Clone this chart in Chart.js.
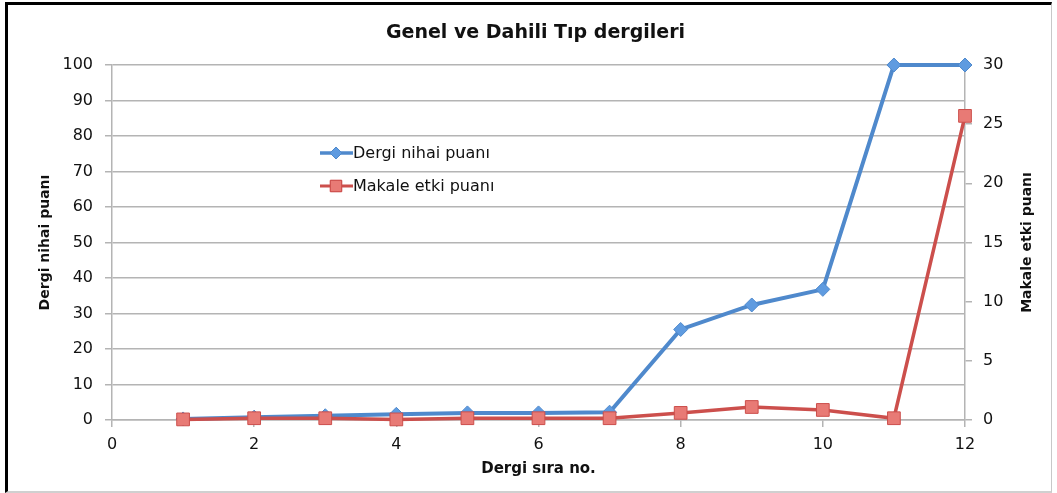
<!DOCTYPE html>
<html>
<head>
<meta charset="utf-8">
<script src="https://cdn.jsdelivr.net/npm/chart.js@4/dist/chart.umd.min.js"></script>
<style>
  html, body { margin: 0; padding: 0; background: #fff; }
  #wrap { position: relative; width: 1057px; height: 493px; }
  #chart { position: absolute; left: 0; top: 0; }
  #frame {
    position: absolute; left: 5px; top: 2px; width: 1043px; height: 486px;
    border-top: 3px solid #000; border-left: 3px solid #000;
    border-right: 1px solid #c8c8c8; border-bottom: 2px solid #d0d0d0;
    pointer-events: none;
  }
</style>
</head>
<body>
<div id="wrap">
  <canvas id="chart" width="1057" height="493"></canvas>
  <div id="frame"></div>
</div>
<script>
// ===== Dados
const siraNo = [1, 2, 3, 4, 5, 6, 7, 8, 9, 10, 11, 12];
const dergiNihai = [0.3, 0.8, 1.2, 1.6, 2.0, 2.0, 2.2, 25.5, 32.4, 36.8, 100, 100];
const makaleEtki = [0.05, 0.15, 0.15, 0.05, 0.15, 0.15, 0.15, 0.6, 1.1, 0.85, 0.15, 25.7];

const xTicks = [0, 2, 4, 6, 8, 10, 12];
const leftTicks = [0, 10, 20, 30, 40, 50, 60, 70, 80, 90, 100];
const rightTicks = [0, 5, 10, 15, 20, 25, 30];

const TITLE = 'Genel ve Dahili Tıp dergileri';
const X_TITLE = 'Dergi sıra no.';
const Y_TITLE = 'Dergi nihai puanı';
const Y2_TITLE = 'Makale etki puanı';

const BLUE = '#4f89cc';
const BLUE_FILL = '#5f9be0';
const RED = '#cc4f4c';
const RED_FILL = '#e87a75';
const GRID = '#b4b4b4';
const INK = '#111';
const FONT = '"DejaVu Sans", sans-serif';

// ===== Textos extras + legenda
const extras = {
  id: 'extras',
  afterDraw(chart) {
    const { ctx, chartArea: a } = chart;
    ctx.save();
    ctx.fillStyle = INK;
    ctx.textAlign = 'center';
    ctx.textBaseline = 'middle';
    ctx.font = 'bold 19px ' + FONT;
    ctx.fillText(TITLE, (a.left + a.right) / 2 - 3, 33);
    ctx.font = 'bold 15px ' + FONT;
    ctx.fillText(X_TITLE, (a.left + a.right) / 2, 469);

    ctx.font = 'bold 14px ' + FONT;
    ctx.save();
    ctx.translate(45, (a.top + a.bottom) / 2);
    ctx.rotate(-Math.PI / 2);
    ctx.fillText(Y_TITLE, 0, 0);
    ctx.restore();

    ctx.save();
    ctx.translate(1027, (a.top + a.bottom) / 2);
    ctx.rotate(-Math.PI / 2);
    ctx.fillText(Y2_TITLE, 0, 0);
    ctx.restore();

    // legenda
    const items = [
      { label: 'Dergi nihai puanı', color: BLUE, fill: BLUE_FILL, style: 'rectRot', r: 6, y: 153, w: 3.5 },
      { label: 'Makale etki puanı', color: RED, fill: RED_FILL, style: 'rect', r: 8, y: 186, w: 3 }
    ];
    items.forEach(it => {
      ctx.strokeStyle = it.color;
      ctx.lineWidth = it.w;
      ctx.beginPath();
      ctx.moveTo(320, it.y);
      ctx.lineTo(353, it.y);
      ctx.stroke();
      ctx.fillStyle = it.fill;
      ctx.lineWidth = 1;
      Chart.helpers.drawPoint(ctx, { pointStyle: it.style, radius: it.r, borderWidth: 1 }, 336, it.y);
      ctx.fill();
      ctx.stroke();
      ctx.fillStyle = INK;
      ctx.textAlign = 'left';
      ctx.font = '16px ' + FONT;
      ctx.fillText(it.label, 353, it.y + 1);
    });
    ctx.restore();
  }
};

new Chart(document.getElementById('chart'), {
  type: 'line',
  data: {
    labels: siraNo,
    datasets: [
      {
        label: 'Dergi nihai puanı',
        data: siraNo.map((x, i) => ({ x, y: dergiNihai[i] })),
        yAxisID: 'y',
        borderColor: BLUE,
        borderWidth: 4,
        pointStyle: 'rectRot',
        pointRadius: 7,
        pointBackgroundColor: BLUE_FILL,
        pointBorderColor: BLUE,
        pointBorderWidth: 1,
        tension: 0,
        clip: false,
        order: 1
      },
      {
        label: 'Makale etki puanı',
        data: siraNo.map((x, i) => ({ x, y: makaleEtki[i] })),
        yAxisID: 'y2',
        borderColor: RED,
        borderWidth: 3.5,
        pointStyle: 'rect',
        pointRadius: 9,
        pointBackgroundColor: RED_FILL,
        pointBorderColor: RED,
        pointBorderWidth: 1,
        tension: 0,
        clip: false,
        order: 0
      }
    ]
  },
  options: {
    responsive: false,
    animation: false,
    layout: { padding: { top: 65, bottom: 23, left: 0, right: 0 } },
    plugins: { legend: { display: false }, title: { display: false }, tooltip: { enabled: false } },
    scales: {
      x: {
        type: 'linear',
        min: 0, max: 12,
        afterFit(s) { s.height = 50; },
        afterBuildTicks(s) { s.ticks = xTicks.map(v => ({ value: v })); },
        grid: { drawOnChartArea: false, drawTicks: true, tickLength: 7, color: GRID, lineWidth: 1.5 },
        border: { color: GRID, width: 1.5 },
        ticks: { color: INK, font: { size: 16, family: FONT }, padding: 8, maxRotation: 0 }
      },
      y: {
        position: 'left',
        min: 0, max: 100,
        afterFit(s) { s.width = 112; },
        afterBuildTicks(s) { s.ticks = leftTicks.map(v => ({ value: v })); },
        grid: { color: GRID, lineWidth: 1.5, tickLength: 7 },
        border: { color: GRID, width: 1.5 },
        ticks: { color: INK, font: { size: 16, family: FONT }, padding: 12 }
      },
      y2: {
        position: 'right',
        min: 0, max: 30,
        afterFit(s) { s.width = 92; },
        afterBuildTicks(s) { s.ticks = rightTicks.map(v => ({ value: v })); },
        grid: { drawOnChartArea: false, color: GRID, lineWidth: 1.5, tickLength: 7 },
        border: { color: GRID, width: 1.5 },
        ticks: { color: INK, font: { size: 16, family: FONT }, padding: 11 }
      }
    }
  },
  plugins: [extras]
});
</script>
</body>
</html>
